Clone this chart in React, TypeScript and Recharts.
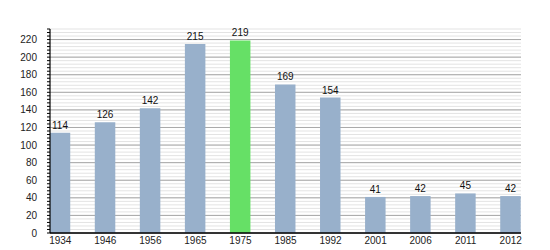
import React from "react";
import { BarChart, Bar, XAxis, YAxis, CartesianGrid, Cell, LabelList } from "recharts";

const years = ["1934", "1946", "1956", "1965", "1975", "1985", "1992", "2001", "2006", "2011", "2012"];
const population = [114, 126, 142, 215, 219, 169, 154, 41, 42, 45, 42];
const highlightYear = "1975";
const majorTicks = [0, 20, 40, 60, 80, 100, 120, 140, 160, 180, 200, 220];
const minorTicks = Array.from({ length: 59 }, (_, k) => k * 4);

const data = years.map((y, i) => ({ i, year: y, value: population[i] }));

const font = "Arial, 'Liberation Sans', sans-serif";

export default function App() {
  return (
    <BarChart
      width={542}
      height={242}
      data={data}
      margin={{ top: 21, right: 29, bottom: 0, left: 0 }}
      style={{ fontFamily: font }}
    >
      <CartesianGrid vertical={false} stroke="#e3e3e3" />
      <CartesianGrid vertical={false} stroke="#a8a8a8" horizontalValues={majorTicks} />
      <XAxis
        dataKey="i"
        type="number"
        domain={[-0.228, 10.228]}
        allowDataOverflow
        ticks={years.map((_, i) => i)}
        interval={0}
        tickFormatter={(v: number) => years[v] ?? ""}
        tickLine={false}
        tickSize={0}
        tickMargin={4}
        height={17}
        axisLine={{ stroke: "#000", strokeWidth: 1.5 }}
        tick={{ fill: "#222", fontSize: 10, fontFamily: font }}
      />
      <YAxis
        type="number"
        domain={[0, 232]}
        allowDataOverflow
        ticks={minorTicks}
        interval={0}
        width={42}
        tickSize={3}
        tickMargin={10}
        tickFormatter={(v: number) => (v % 20 === 0 && v <= 220 ? String(v) : "")}
        axisLine={{ stroke: "#000", strokeWidth: 1.2 }}
        tickLine={{ stroke: "#000" }}
        tick={{ fill: "#222", fontSize: 10, fontFamily: font }}
      />
      <Bar dataKey="value" barSize={20.5} isAnimationActive={false}>
        {data.map((d) => (
          <Cell key={d.year} fill={d.year === highlightYear ? "#66e066" : "#98b0cb"} />
        ))}
        <LabelList dataKey="value" position="top" offset={4} style={{ fill: "#111", fontSize: 10, fontFamily: font }} />
      </Bar>
    </BarChart>
  );
}
